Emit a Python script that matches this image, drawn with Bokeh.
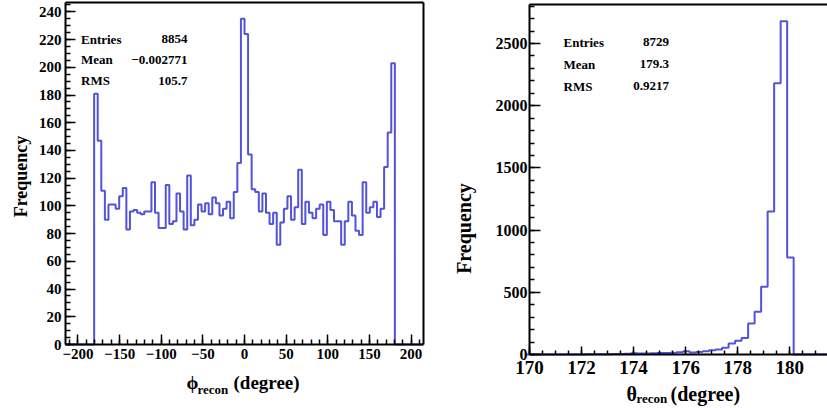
import numpy as np
from bokeh.plotting import figure
from bokeh.layouts import row
from bokeh.models import (Label, FixedTicker, CustomJSTickFormatter, Range1d, LinearAxis)
from bokeh.embed import file_html
from bokeh.resources import INLINE

# ---------------- data ----------------
# phi_recon histogram: 100 bins over [-215, 215]
phi_lo, phi_hi, phi_nbins = -215.0, 215.0, 100
phi_counts = ([0] * 8 +
              [181, 147, 111, 90, 101, 101, 98, 107, 113, 83, 96, 97, 95, 94, 96, 96,
               117, 95, 84, 84, 115, 87, 89, 109,
               96, 83, 122, 86, 90, 101, 96, 102, 94, 106, 102, 93, 98, 103, 91, 110,
               131, 235,
               224, 137, 112, 110, 96, 109, 95, 87, 95, 72, 88, 98, 107, 90, 99, 126,
               87, 103, 95, 91, 98, 101, 79, 103, 97, 89, 89, 72, 89, 103, 93, 82, 79,
               117, 95, 99, 103, 92, 98, 128, 153, 203] +
              [0] * 8)
phi_stats_names = ["Entries", "Mean", "RMS"]
phi_stats_values = ["8854", "\u22120.002771", "105.7"]
phi_xticks = [-200, -150, -100, -50, 0, 50, 100, 150, 200]
phi_xminor = list(range(-210, 211, 10))
phi_yticks = list(range(0, 241, 20))
phi_yminor = list(range(0, 246, 5))

# theta_recon histogram: bins of 0.25 degree starting at 169.9
theta_lo, theta_width = 169.9, 0.25
theta_counts = ([0] +
                [0, 0, 0, 0, 0, 0, 1, 1, 2, 2, 3, 3, 4, 5, 7, 10, 9, 8, 10, 12, 12, 14,
                 18, 27, 16, 21, 27, 35, 40, 54, 88, 110, 132, 250, 343, 545, 1150,
                 2180, 2680, 780] +
                [0] * 7)
theta_stats_names = ["Entries", "Mean", "RMS"]
theta_stats_values = ["8729", "179.3", "0.9217"]
theta_xticks = [170, 172, 174, 176, 178, 180]
theta_xminor = [170 + 0.5 * i for i in range(24)]
theta_yticks = [0, 500, 1000, 1500, 2000, 2500]
theta_yminor = list(range(0, 2801, 100))

HIST_COLOR = "#5353d9"
FONT = "Liberation Serif"
H = 408


def step_xy(edges, counts):
    xs = np.repeat(edges, 2)[1:-1]
    ys = np.repeat(np.asarray(counts, dtype=float), 2)
    return xs, ys


def add_text(p, x, y, text, size, align="left", baseline="alphabetic", angle=0.0):
    p.add_layout(Label(x=x, y=y, text=text, text_font=FONT, text_font_style="bold",
                       text_font_size=size, text_align=align, text_baseline=baseline,
                       text_color="black", angle=angle))


def style_axis(ax, size, tin, tmin, standoff):
    ax.axis_line_width = 2
    ax.axis_line_color = "black"
    ax.major_tick_in = tin
    ax.major_tick_out = 0
    ax.minor_tick_in = tmin
    ax.minor_tick_out = 0
    ax.major_tick_line_width = 1.5
    ax.minor_tick_line_width = 1.5
    ax.major_label_text_font = FONT
    ax.major_label_text_font_style = "bold"
    ax.major_label_text_color = "black"
    ax.major_label_text_font_size = size
    ax.major_label_standoff = standoff


def frame_line(p, place, loc, bounds):
    ax = LinearAxis(fixed_location=loc, bounds=bounds, ticker=FixedTicker(ticks=[]),
                    major_label_text_font_size="0px", axis_line_width=2,
                    axis_line_color="black", major_tick_line_color=None,
                    minor_tick_line_color=None)
    p.add_layout(ax, place)


def make_panel(width, box, xlim, ylim):
    """box = (left, right, top, bottom) of the histogram frame in panel px."""
    L, R, T, B = box
    sx = (xlim[1] - xlim[0]) / (R - L)
    sy = (ylim[1] - ylim[0]) / (B - T)
    xr = Range1d(xlim[0] - L * sx, xlim[1] + (width - R) * sx)
    yr = Range1d(ylim[0] - (H - B) * sy, ylim[1] + T * sy)
    p = figure(width=width, height=H, x_range=xr, y_range=yr, output_backend="svg",
               toolbar_location=None, min_border=0)
    p.title.visible = False
    p.outline_line_color = None
    p.background_fill_color = "white"
    p.border_fill_color = "white"
    p.xgrid.visible = False
    p.ygrid.visible = False
    p.xaxis[0].fixed_location = ylim[0]
    p.xaxis[0].bounds = xlim
    p.yaxis[0].fixed_location = xlim[0]
    p.yaxis[0].bounds = ylim

    def cx(px):
        return xr.start + px * sx

    def cy(py):
        return yr.end - py * sy
    return p, cx, cy


minus_fmt = CustomJSTickFormatter(
    code="return tick < 0 ? '\\u2212' + Math.abs(tick) : String(tick);")

# ---------------- left panel ----------------
W1 = 445
phi_edges = phi_lo + (phi_hi - phi_lo) / phi_nbins * np.arange(phi_nbins + 1)
y1max = 1.05 * max(phi_counts)
p1, cx1, cy1 = make_panel(W1, (65, 423, 2, 344), (phi_lo, phi_hi), (0, y1max))
style_axis(p1.xaxis[0], "15px", 10, 5, 4)
style_axis(p1.yaxis[0], "15px", 10, 5, 4)
p1.xaxis[0].ticker = FixedTicker(ticks=phi_xticks, minor_ticks=phi_xminor)
p1.yaxis[0].ticker = FixedTicker(ticks=phi_yticks, minor_ticks=phi_yminor)
p1.xaxis[0].formatter = minus_fmt
frame_line(p1, "above", y1max, (phi_lo, phi_hi))
frame_line(p1, "right", phi_hi, (0, y1max))

xs, ys = step_xy(phi_edges, phi_counts)
p1.line(xs, ys, line_color=HIST_COLOR, line_width=2)

for i, (n, v) in enumerate(zip(phi_stats_names, phi_stats_values)):
    yb = 38.5 + 20.8 * i
    add_text(p1, cx1(80.5), cy1(yb), n, "13px")
    add_text(p1, cx1(187), cy1(yb), v, "13px", align="right")

add_text(p1, cx1(186), cy1(382), "\u03d5", "19px")
add_text(p1, cx1(197), cy1(388.5), "recon", "13px")
add_text(p1, cx1(233), cy1(382), "(degree)", "19px")
add_text(p1, cx1(20), cy1(176), "Frequency", "18px", align="center",
         baseline="middle", angle=np.pi / 2)

# ---------------- right panel ----------------
W2 = 827 - W1
theta_edges = theta_lo + theta_width * np.arange(len(theta_counts) + 1)
y2max = 1.05 * max(theta_counts)
x2lim = (170.0, 181.45)
p2, cx2, cy2 = make_panel(W2, (529 - W1, 827 - W1, 4, 354), x2lim, (0, y2max))
style_axis(p2.xaxis[0], "19px", 8, 4, 6)
style_axis(p2.yaxis[0], "16px", 11, 5, 2)
p2.xaxis[0].ticker = FixedTicker(ticks=theta_xticks, minor_ticks=theta_xminor)
p2.yaxis[0].ticker = FixedTicker(ticks=theta_yticks, minor_ticks=theta_yminor)
frame_line(p2, "above", y2max, x2lim)

xs2, ys2 = step_xy(theta_edges, theta_counts)
p2.line(xs2, ys2, line_color=HIST_COLOR, line_width=2)

for i, (n, v) in enumerate(zip(theta_stats_names, theta_stats_values)):
    yb = 41.5 + 22.2 * i
    add_text(p2, cx2(563 - W1), cy2(yb), n, "13px")
    add_text(p2, cx2(668.5 - W1), cy2(yb), v, "13px", align="right")

add_text(p2, cx2(626 - W1), cy2(393), "\u03b8", "20px")
add_text(p2, cx2(636 - W1), cy2(398), "recon", "13px")
add_text(p2, cx2(670 - W1), cy2(393), "(degree)", "20px")
add_text(p2, cx2(463 - W1), cy2(228), "Frequency", "20px", align="center",
         baseline="middle", angle=np.pi / 2)

layout = row(p1, p2, spacing=0)
open("out.html", "w").write(file_html(layout, INLINE))
